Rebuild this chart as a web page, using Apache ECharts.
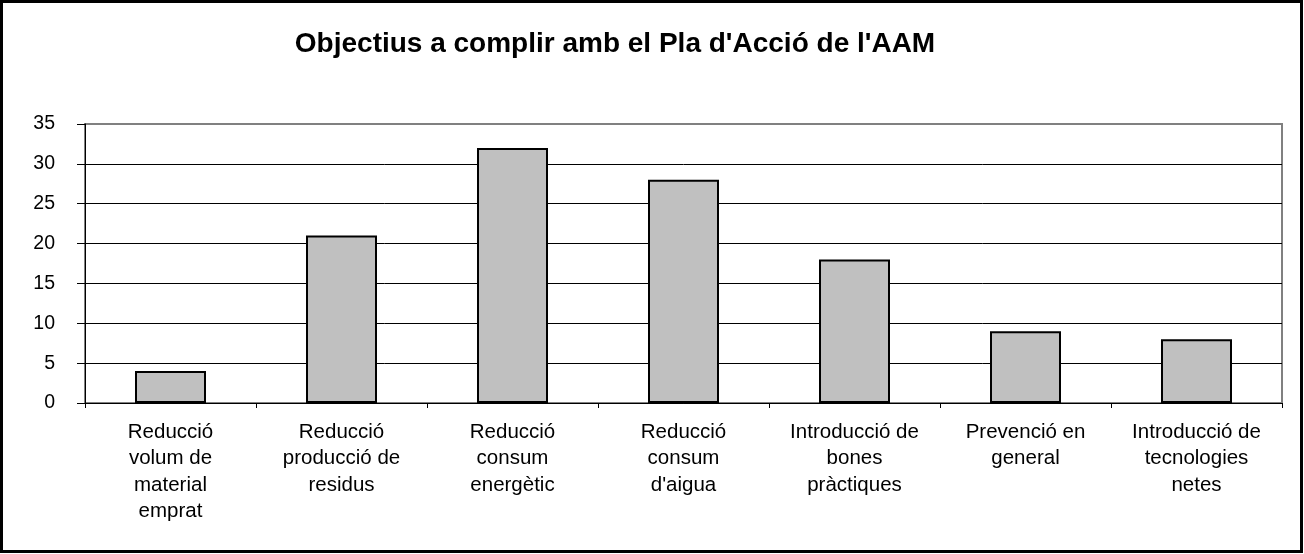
<!DOCTYPE html>
<html>
<head>
<meta charset="utf-8">
<script src="https://cdn.jsdelivr.net/npm/echarts@6/dist/echarts.min.js"></script>
<style>
  html, body { margin: 0; padding: 0; background: #fff; }
  #chart { width: 1304px; height: 554px; }
</style>
</head>
<body>
<div id="chart"></div>
<script>
// categories and values
const categories = [
    'Reducció\nvolum de\nmaterial\nemprat',
    'Reducció\nproducció de\nresidus',
    'Reducció\nconsum\nenergètic',
    'Reducció\nconsum\nd\'aigua',
    'Introducció de\nbones\npràctiques',
    'Prevenció en\ngeneral',
    'Introducció de\ntecnologies\nnetes'
];
const values = [4, 21, 32, 28, 18, 9, 8];
const yTicks = [0, 5, 10, 15, 20, 25, 30, 35];

const chart = echarts.init(document.getElementById('chart'));
chart.setOption({
    animation: false,
    backgroundColor: '#fff',
    textStyle: { fontFamily: 'Liberation Sans, Arial, sans-serif' },
    title: {
        text: 'Objectius a complir amb el Pla d\'Acció de l\'AAM',
        left: 610,
        textAlign: 'center',
        top: 25,
        textStyle: { fontSize: 28, fontWeight: 'bold', color: '#000', fontFamily: 'Liberation Sans, Arial, sans-serif' }
    },
    graphic: [{
        type: 'rect',
        shape: { x: 1.5, y: 1.5, width: 1300, height: 550 },
        style: { fill: 'none', stroke: '#000', lineWidth: 3 },
        silent: true
    }],
    grid: {
        left: 85, right: 22, top: 124, bottom: 151,
        show: true,
        borderColor: '#808080',
        borderWidth: 2,
        backgroundColor: '#fff'
    },
    xAxis: {
        type: 'category',
        data: categories,
        axisLine: { lineStyle: { color: '#000', width: 1 } },
        axisTick: { show: true, length: 5, lineStyle: { color: '#000' } },
        axisLabel: {
            color: '#000', fontSize: 20.5, lineHeight: 26.5, margin: 16,
            interval: 0, align: 'center'
        }
    },
    yAxis: {
        type: 'value',
        min: yTicks[0],
        max: yTicks[yTicks.length - 1],
        interval: 5,
        axisLine: { show: true, lineStyle: { color: '#000', width: 1 } },
        axisTick: { show: true, length: 8, lineStyle: { color: '#000' } },
        axisLabel: { color: '#000', fontSize: 19.5, margin: 30 },
        splitLine: { show: true, showMaxLine: false, lineStyle: { color: '#000', width: 1 } }
    },
    series: [{
        type: 'bar',
        data: values,
        barWidth: 71,
        itemStyle: { color: '#C0C0C0', borderColor: '#000', borderWidth: 2 }
    }]
});
</script>
</body>
</html>
